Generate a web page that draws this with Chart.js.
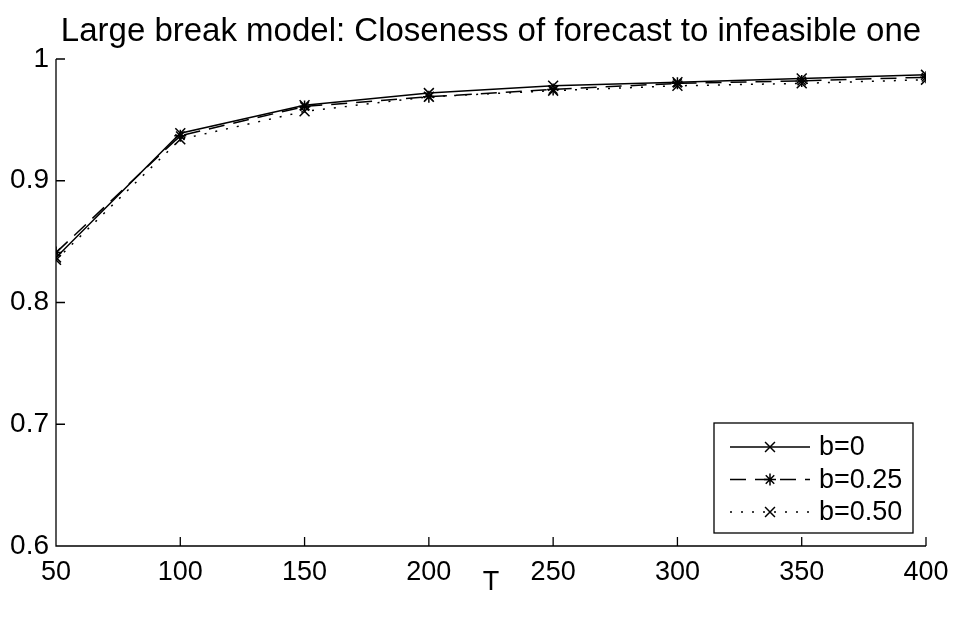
<!DOCTYPE html>
<html><head><meta charset="utf-8">
<script src="https://cdn.jsdelivr.net/npm/chart.js@4/dist/chart.umd.min.js"></script>
<style>html,body{margin:0;padding:0;background:#fff}#wrap{width:956px;height:618px}</style>
</head><body><div id="wrap"><canvas id="c" width="956" height="618"></canvas></div>
<script>
// ---- data ----
const T = [50, 100, 150, 200, 250, 300, 350, 400];
const b0 = [0.837, 0.939, 0.962, 0.972, 0.978, 0.981, 0.984, 0.987];
const b025 = [0.841, 0.937, 0.961, 0.969, 0.975, 0.980, 0.982, 0.985];
const b050 = [0.835, 0.934, 0.957, 0.969, 0.974, 0.978, 0.980, 0.983];
const seriesLabels = ['b=0', 'b=0.25', 'b=0.50'];
const xTickValues = [50, 100, 150, 200, 250, 300, 350, 400];
const xTickLabels = ['50', '100', '150', '200', '250', '300', '350', '400'];
const yTickValues = [0.6, 0.7, 0.8, 0.9, 1];
const yTickLabels = ['0.6', '0.7', '0.8', '0.9', '1'];
const titleText = 'Large break model: Closeness of forecast to infeasible one';
const xTitleText = 'T';

const FONT = "'Liberation Sans', Arial, Helvetica, sans-serif";
const TICK_SIZE = 27;

function pts(ys) { return T.map((t, i) => ({x: t, y: ys[i]})); }

const styles = [
  {dash: [], pointStyle: 'crossRot', radius: 7},
  {dash: [16, 9], pointStyle: 'star', radius: 6},
  {dash: [2, 9], pointStyle: 'crossRot', radius: 7}
];
const seriesData = [b0, b025, b050];

const datasets = seriesData.map((ys, i) => ({
  label: seriesLabels[i],
  data: pts(ys),
  xAxisID: 'x',
  yAxisID: 'y',
  borderColor: '#000',
  borderWidth: 1.5,
  borderDash: styles[i].dash,
  pointStyle: styles[i].pointStyle,
  pointRadius: styles[i].radius,
  pointBorderColor: '#000',
  pointBackgroundColor: '#000',
  pointBorderWidth: 1.5,
  fill: false,
  tension: 0
}));

function drawMarker(ctx, style, x, y, r) {
  ctx.beginPath();
  if (style === 'crossRot' || style === 'star') {
    const o = r * Math.SQRT1_2;
    ctx.moveTo(x - o, y - o); ctx.lineTo(x + o, y + o);
    ctx.moveTo(x - o, y + o); ctx.lineTo(x + o, y - o);
  }
  if (style === 'star') {
    ctx.moveTo(x - r, y); ctx.lineTo(x + r, y);
    ctx.moveTo(x, y - r); ctx.lineTo(x, y + r);
  }
  ctx.stroke();
}

const axesPlugin = {
  id: 'matlabAxes',
  afterDatasetsDraw(chart) {
    const ctx = chart.ctx, a = chart.chartArea;
    const xs = chart.scales.x, ys = chart.scales.y;
    ctx.save();
    ctx.strokeStyle = '#000';
    ctx.lineWidth = 1.3;
    ctx.setLineDash([]);
    ctx.beginPath();
    ctx.moveTo(a.left, a.top); ctx.lineTo(a.left, a.bottom); ctx.lineTo(a.right, a.bottom);
    xTickValues.forEach(v => {
      const p = xs.getPixelForValue(v);
      ctx.moveTo(p, a.bottom); ctx.lineTo(p, a.bottom - 9);
    });
    yTickValues.forEach(v => {
      const p = ys.getPixelForValue(v);
      ctx.moveTo(a.left, p); ctx.lineTo(a.left + 9, p);
    });
    ctx.stroke();
    ctx.restore();
  },
  afterDraw(chart) {
    const ctx = chart.ctx, a = chart.chartArea;
    const w = 199, h = 110;
    const bx = a.right - 13 - w, by = a.bottom - 13 - h;
    ctx.save();
    ctx.fillStyle = '#fff';
    ctx.fillRect(bx, by, w, h);
    ctx.strokeStyle = '#000';
    ctx.lineWidth = 1.3;
    ctx.setLineDash([]);
    ctx.strokeRect(bx, by, w, h);
    ctx.font = TICK_SIZE + 'px ' + FONT;
    ctx.textBaseline = 'middle';
    ctx.textAlign = 'left';
    chart.data.datasets.forEach((ds, i) => {
      const cy = by + 24 + i * 32.5;
      ctx.strokeStyle = '#000';
      ctx.lineWidth = 1.5;
      ctx.setLineDash(ds.borderDash || []);
      ctx.beginPath();
      ctx.moveTo(bx + 16, cy); ctx.lineTo(bx + 96, cy);
      ctx.stroke();
      ctx.setLineDash([]);
      drawMarker(ctx, ds.pointStyle, bx + 56, cy, ds.pointRadius);
      ctx.fillStyle = '#000';
      ctx.fillText(ds.label, bx + 105, cy + 1);
    });
    ctx.restore();
  }
};

new Chart(document.getElementById('c'), {
  type: 'line',
  data: {datasets},
  options: {
    responsive: false,
    devicePixelRatio: 1,
    animation: false,
    layout: {padding: {left: 0, right: 30, top: 0, bottom: 0}},
    plugins: {
      legend: {display: false},
      tooltip: {enabled: false},
      title: {display: false}
    },
    scales: {
      x: {
        type: 'linear',
        position: 'bottom',
        min: 50, max: 400,
        afterBuildTicks: s => { s.ticks = xTickValues.map(v => ({value: v})); },
        afterFit: s => { s.height = 72; s.paddingLeft = 0; s.paddingRight = 0; },
        grid: {display: false, drawTicks: false},
        border: {display: false},
        ticks: {
          color: '#000',
          font: {family: FONT, size: TICK_SIZE},
          padding: 10,
          maxRotation: 0,
          autoSkip: false,
          callback: (v) => xTickLabels[xTickValues.indexOf(v)]
        },
        title: {
          display: true, text: xTitleText, color: '#000',
          font: {family: FONT, size: TICK_SIZE},
          padding: {top: 0, bottom: 19}
        }
      },
      xTop: {
        type: 'linear',
        position: 'top',
        min: 50, max: 400,
        afterFit: s => { s.height = 59; s.paddingLeft = 0; s.paddingRight = 0; },
        grid: {display: false, drawTicks: false},
        border: {display: false},
        ticks: {display: false},
        title: {
          display: true, text: titleText, color: '#000',
          font: {family: FONT, size: 33},
          padding: {top: 12, bottom: 0}
        }
      },
      y: {
        min: 0.6, max: 1,
        afterBuildTicks: s => { s.ticks = yTickValues.map(v => ({value: v})); },
        afterFit: s => { s.width = 56; },
        grid: {display: false, drawTicks: false},
        border: {display: false},
        ticks: {
          color: '#000',
          font: {family: FONT, size: 28},
          padding: 7,
          autoSkip: false,
          callback: (v) => { const k = yTickValues.findIndex(t => Math.abs(t - v) < 1e-9); return k >= 0 ? yTickLabels[k] : ''; }
        }
      }
    }
  },
  plugins: [axesPlugin]
});
</script>
</body></html>
